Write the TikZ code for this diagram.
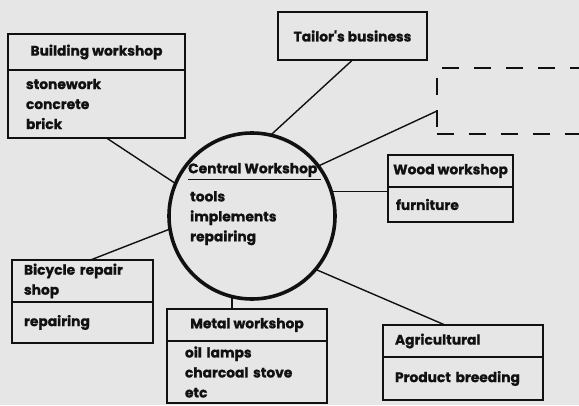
\documentclass[tikz,border=0pt]{standalone}
\usepackage{fontspec}
\newfontfamily\shopfont{Poppins}[BoldFeatures={FakeBold=1}]
\usetikzlibrary{positioning}
\definecolor{inkcol}{HTML}{111111}
\definecolor{papercol}{HTML}{E6E6E6}

\begin{document}
\begin{tikzpicture}[
    x=1pt, y=-1pt,
    every node/.style={font=\shopfont\bfseries\fontsize{13.8}{20}\selectfont, text=inkcol},
    shophead/.style={
      rectangle, draw=inkcol, line width=1.6pt, outer sep=0pt,
      inner ysep=0pt, align=center
    },
    shopbody/.style={
      rectangle, draw=inkcol, line width=1.6pt, outer sep=0pt,
      inner ysep=0pt, align=left
    },
    link/.style={draw=inkcol, line width=1.4pt}
  ]
    % ── Paper ──
    \useasboundingbox (0,0) rectangle (579,405);
    \fill[papercol] (0,0) rectangle (579,405);

    % ── Central Workshop ──
    \node[circle, draw=inkcol, line width=3.6pt, minimum size=166pt,
      inner sep=0pt, outer sep=0pt] (cw) at (252,216) {};
    \node[anchor=west, inner sep=0pt] (cwtitle) at (188,170) {Central Workshop};
    \draw[inkcol, line width=1.2pt] ([yshift=-2pt]cwtitle.south west)
      -- ([yshift=-2pt, xshift=3pt]cwtitle.south east);
    \node[anchor=north west, inner sep=0pt, align=left] (cwitems) at (190,191)
      {tools\\implements\\repairing};

    % ── Building workshop ──
    \node[shophead, anchor=north west, minimum width=177pt, minimum height=36pt]
      (bwhead) at (8,34) {Building workshop};
    \node[shopbody, below=0pt of bwhead, minimum height=68pt, text width=141pt,
      inner xsep=18pt] (bwbody) {stonework\\concrete\\brick};

    % ── Tailor's business ──
    \node[shophead, anchor=north west, minimum width=149pt, minimum height=48pt]
      (tlbox) at (278,12) {Tailor's business};

    % ── Empty dashed box ──
    \begin{scope}
      \clip (0,0) rectangle (579,405);
      \node[rectangle, draw=inkcol, line width=1.6pt, dash pattern=on 17pt off 15pt,
        outer sep=0pt, anchor=north west, minimum width=170pt, minimum height=66pt]
        (dsbox) at (437,68) {};
    \end{scope}

    % ── Wood workshop ──
    \node[shophead, anchor=north west, minimum width=125pt, minimum height=32pt,
      inner xsep=2pt] (wdhead) at (388,155) {Wood workshop};
    \node[shopbody, below=0pt of wdhead, minimum height=35pt, text width=109pt,
      inner xsep=8pt] (wdbody) {furniture};

    % ── Bicycle repair shop ──
    \node[shophead, anchor=north west, minimum width=141pt, minimum height=42pt,
      text width=117pt, inner xsep=12pt, align=left] (bkhead) at (12,260)
      {Bicycle repair\\shop};
    \node[shopbody, below=0pt of bkhead, minimum height=41pt, text width=117pt,
      inner xsep=12pt] (bkbody) {repairing};

    % ── Metal workshop ──
    \node[shophead, anchor=north west, minimum width=160pt, minimum height=32pt]
      (mthead) at (167,309) {Metal workshop};
    \node[shopbody, below=0pt of mthead, minimum height=62pt, text width=124pt,
      inner xsep=18pt] (mtbody) {oil lamps\\charcoal stove\\etc};

    % ── Agricultural ──
    \node[shophead, anchor=north west, minimum width=160pt, minimum height=32pt,
      text width=136pt, inner xsep=12pt, align=left] (aghead) at (383,325)
      {Agricultural};
    \node[shopbody, below=0pt of aghead, minimum height=43pt, text width=136pt,
      inner xsep=12pt] (agbody) {Product breeding};

    % ── Links to the centre ──
    \draw[link] ([xshift=10pt]bwbody.south) -- (cw.157);
    \draw[link] (tlbox.south) -- (cw.77);
    \draw[link] ([yshift=-10pt]dsbox.west) -- (cw.37);
    \draw[link] (cw.17) -- (cw.17 -| wdhead.west);
    \draw[link] ([xshift=8pt]bkhead.north) -- (cw.189);
    \draw[link] (cw.256) -- (cw.256 |- mthead.north);
    \draw[link] ([xshift=-18pt]aghead.north) -- (cw.-40);

  \end{tikzpicture}
\end{document}
